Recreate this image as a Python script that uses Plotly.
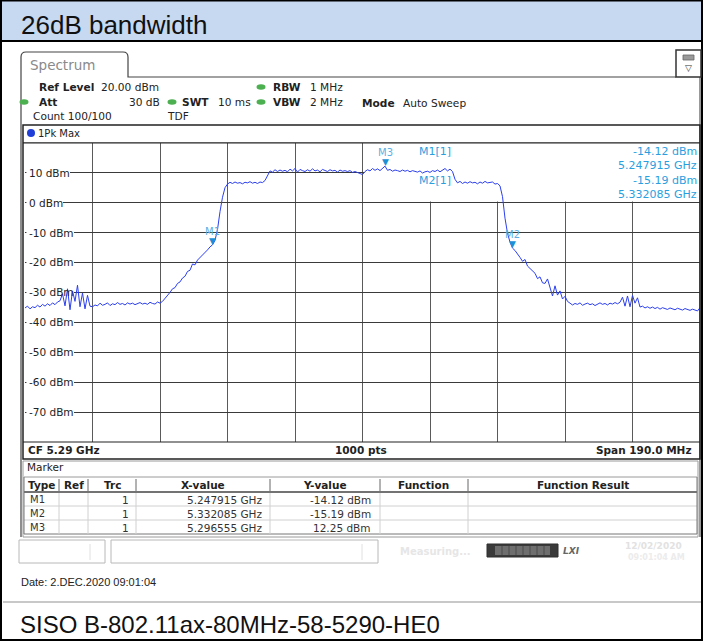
import numpy as np
import plotly.graph_objects as go

# ---------------- data ----------------
start_ghz = 5.195
stop_ghz = 5.385
center_ghz = 5.29
span_mhz = 190.0
ref_level_dbm = 20.0
bottom_level_dbm = -80.0
sweep_points = 1000

seg_floor_left = [-35.2, -34.6, -35.5, -34.8, -35.1, -34.3, -34.9, -34.0, -34.6, -33.8,
                  -34.4, -33.5, -34.1, -33.2, -32.8]
seg_spikes_left = [-30.5, -34.5, -28.8, -35.8, -29.5, -33.0, -27.6, -34.8, -30.2, -35.5,
                   -31.0, -34.6]
seg_floor_mid = [-34.8, -34.2, -34.5, -33.6, -34.3, -34.0, -33.5, -34.4, -33.8, -34.1,
                 -33.4, -34.0, -33.7, -34.2, -33.5, -33.9, -33.6, -34.1, -33.8, -33.4,
                 -33.9, -33.6, -34.0, -33.3, -33.7, -33.9, -33.2, -33.6, -33.0]
seg_rise = [-32.0, -31.2, -30.0, -28.8, -28.4, -27.0, -26.5, -25.2, -24.6, -23.0,
            -22.6, -20.5, -20.8, -19.2, -18.4, -17.6, -16.5, -15.8, -14.8, -14.1,
            -12.6, -9.0, -3.0, 1.8, 5.0]
seg_shoulder_left = [6.2, 6.8, 6.4, 6.9, 6.5, 6.7, 6.3, 6.8, 6.6, 7.0, 6.5, 6.8, 6.4,
                     6.9, 6.7, 7.4]
seg_step_up = [9.0, 10.6, 10.2, 11.0, 10.4, 10.9, 10.5]
seg_top = [10.8, 10.3, 11.2, 10.6, 11.4, 10.2, 11.1, 10.7, 10.4, 11.0,
           10.5, 11.3, 10.6, 10.9, 10.3, 11.1, 10.7, 10.4, 11.0, 10.6,
           10.8, 10.2, 10.9, 10.5, 10.7, 10.4, 10.7, 10.1, 10.4, 10.0,
           9.7, 9.4, 10.4, 11.0, 10.6, 11.4, 10.8, 11.3, 10.7, 11.5,
           12.2, 10.8, 11.1, 10.5, 10.9, 10.7, 10.4, 10.9, 10.5, 10.8,
           10.3, 10.7, 10.4, 10.2, 10.6, 9.9, 10.3, 10.5, 10.1, 10.7,
           10.4, 10.9, 10.3, 10.8, 11.4, 10.6, 11.2, 10.4]
seg_shoulder_right = [7.8, 6.6, 7.1, 6.4, 6.9, 6.5, 7.0, 6.6, 6.8, 6.3, 6.9, 6.5, 7.1,
                      6.6, 6.8, 6.9, 6.2, 6.4]
seg_fall = [5.6, 2.0, -5.2, -10.2, -13.2, -15.2, -16.0, -17.0, -18.3, -19.6,
            -19.0, -21.2, -22.0, -22.8, -23.6, -25.4, -24.8, -26.8, -27.0, -25.5,
            -28.6, -31.2, -27.8, -30.9, -29.5, -32.2, -31.3]
seg_floor_right = [-33.0, -33.6, -34.2, -33.7, -34.0, -33.5, -34.3, -33.9, -33.6, -34.1,
                   -33.8, -34.4, -33.9, -33.5, -34.0, -33.7, -34.2, -33.6, -33.9, -33.4,
                   -33.8, -33.3]
seg_spikes_right = [-31.6, -34.6, -31.2, -34.8, -31.0, -33.6, -31.8, -34.9]
seg_floor_end = [-34.6, -35.2, -34.8, -35.3, -34.9, -35.4, -35.0, -35.6, -35.1, -35.3,
                 -35.7, -35.2, -35.5, -35.8, -35.3, -35.6, -35.9, -35.4, -35.7, -36.0,
                 -35.6, -35.9, -36.2, -35.1]

trace_dbm = (seg_floor_left + seg_spikes_left + seg_floor_mid + seg_rise + seg_shoulder_left
             + seg_step_up + seg_top + seg_shoulder_right + seg_fall + seg_floor_right
             + seg_spikes_right + seg_floor_end)

marker_names = ["M1", "M2", "M3"]
marker_freq_ghz = [5.247915, 5.332085, 5.296555]
marker_level_dbm = [-14.12, -15.19, 12.25]
marker_trace = [1, 1, 1]

y_tick_dbm = [10, 0, -10, -20, -30, -40, -50, -60, -70]
table_columns = ["Type", "Ref", "Trc", "X-value", "Y-value", "Function", "Function Result"]

title_text = "26dB bandwidth"
caption_text = "SISO B-802.11ax-80MHz-58-5290-HE0"
date_text = "Date: 2.DEC.2020 09:01:04"

# ---------------- layout helpers ----------------
W, H = 703, 641
UI = "DejaVu Sans"
ARIAL = "Liberation Sans"
MK = "#2a9fe0"


def X(px):
    return px / W


def Y(py):
    return 1 - py / H


PLOT_L, PLOT_R, PLOT_T, PLOT_B = 25, 700, 142.8, 442


def px_to_ghz(px):
    return start_ghz + (px - PLOT_L) / (PLOT_R - PLOT_L) * (stop_ghz - start_ghz)


shapes = []
anns = []


def rect(x0, y0, x1, y1, line="#000", lw=1, fill=None, layer="above"):
    shapes.append(dict(type="rect", xref="paper", yref="paper",
                       x0=X(x0), x1=X(x1), y0=Y(y1), y1=Y(y0),
                       line=dict(color=line, width=lw) if lw > 0 else dict(width=0),
                       fillcolor=fill if fill else "rgba(0,0,0,0)", layer=layer))


def seg(x0, y0, x1, y1, color="#000", lw=1):
    shapes.append(dict(type="line", xref="paper", yref="paper",
                       x0=X(x0), x1=X(x1), y0=Y(y0), y1=Y(y1),
                       line=dict(color=color, width=lw), layer="above"))


def ell(cx, cy, rx, ry, fill):
    shapes.append(dict(type="circle", xref="paper", yref="paper",
                       x0=X(cx - rx), x1=X(cx + rx), y0=Y(cy + ry), y1=Y(cy - ry),
                       line=dict(width=0), fillcolor=fill, layer="above"))


def path(points, color="#000", lw=1):
    d = ""
    for i, p in enumerate(points):
        if p[0] == "Q":
            d += f" Q {X(p[1])},{Y(p[2])} {X(p[3])},{Y(p[4])}"
        else:
            d += (" M " if i == 0 else " L ") + f"{X(p[0])},{Y(p[1])}"
    shapes.append(dict(type="path", xref="paper", yref="paper", path=d,
                       line=dict(color=color, width=lw), layer="above"))


def txt(x, y, s, size=10.5, color="#222", bold=False, xanchor="left", font=UI, italic=False):
    t = f"<b>{s}</b>" if bold else s
    if italic:
        t = f"<i>{t}</i>"
    anns.append(dict(x=X(x), y=Y(y), xref="paper", yref="paper", text=t, showarrow=False,
                     xanchor=xanchor, yanchor="middle",
                     font=dict(family=font, size=size, color=color)))


# ---------------- figure ----------------
freq_ghz = np.linspace(start_ghz, stop_ghz, len(trace_dbm))

fig = go.Figure()
fig.add_trace(go.Scatter(x=freq_ghz, y=trace_dbm, mode="lines",
                         line=dict(color="#2b3ff0", width=1), hoverinfo="skip",
                         showlegend=False))

# title band and outer frame
rect(1, 1, 702, 40, lw=0, fill="#c6d9f1", layer="below")
seg(1, 41, 702, 41, "#000", 2)
seg(3, 602, 701, 602, "#c8c8c8", 2)
rect(1, 0.5, 702, 640, line="#000", lw=2)
txt(19, 25, title_text, size=26, color="#111", font=ARIAL)
txt(18, 624, caption_text, size=24, color="#111", font=ARIAL)
txt(19, 582, date_text, size=11, color="#222", font=ARIAL)

# spectrum tab
path([(21, 537), (21, 57), ("Q", 21, 52, 26, 52), (123, 52), ("Q", 128, 52, 128, 57),
      (128, 77), (676, 77)], color="#444", lw=1.2)
txt(28, 65, "Spectrum", size=13.5, color="#8a8a8a")
seg(700, 77, 700, 537, "#555", 1.2)
# icon
rect(676, 50, 701, 77, line="#333", lw=1.5, fill="#ffffff")
rect(683, 55, 694, 60, line="#666", lw=0.8, fill="#9a9a9a")
txt(688.5, 68, "▽", size=9, color="#333", xanchor="center")

# settings header
HS = 10.6
txt(37, 87, "Ref Level", bold=True, size=HS)
txt(99, 87, f"{ref_level_dbm:.2f} dBm", size=HS)
ell(261, 87, 4.5, 2.8, "#4caf50")
txt(271, 87, "RBW", bold=True, size=HS)
txt(308, 87, "1 MHz", size=HS)
ell(24, 102, 4.5, 2.8, "#4caf50")
txt(37, 102, "Att", bold=True, size=HS)
txt(127, 102, "30 dB", size=HS)
ell(172, 102, 4.5, 2.8, "#4caf50")
txt(180, 102, "SWT", bold=True, size=HS)
txt(216, 102, "10 ms", size=HS)
ell(261, 102, 4.5, 2.8, "#4caf50")
txt(271, 102, "VBW", bold=True, size=HS)
txt(308, 102, "2 MHz", size=HS)
txt(360, 103, "Mode", bold=True, size=HS)
txt(401, 103, "Auto Sweep", size=HS)
txt(31, 116, "Count 100/100", size=HS)
txt(165, 116, "TDF", size=HS)

# plot window frame
rect(23, 125, 700, 459, line="#222", lw=1.5)
seg(23, PLOT_T, 700, PLOT_T, "#222", 1.2)
seg(23, PLOT_B, 700, PLOT_B, "#222", 1.2)
ell(31, 133, 4, 4, "#1f3fd8")
txt(36, 133, "1Pk Max", size=10)
txt(26, 450, f"CF {center_ghz:.2f} GHz", bold=True, size=10.5)
txt(361, 450, f"{sweep_points} pts", bold=True, size=10.5, xanchor="center")
txt(694, 450, f"Span {span_mhz:.1f} MHz", bold=True, size=10.5, xanchor="right")

# y tick labels inside the plot
label_end_px = {10: 70, 0: 63, -10: 74, -20: 74, -30: 74, -40: 74, -50: 74, -60: 74, -70: 74}
for v in y_tick_dbm:
    shapes.append(dict(type="rect", xref="x", yref="y", x0=start_ghz + 0.0004,
                       x1=px_to_ghz(label_end_px[v]), y0=v - 2.5, y1=v + 2.5,
                       line=dict(width=0), fillcolor="#ffffff", layer="between"))
    anns.append(dict(x=X(27), y=v, xref="paper", yref="y", text=f"{v} dBm", showarrow=False,
                     xanchor="left", yanchor="middle",
                     font=dict(family=UI, size=10.5, color="#222")))

# marker readout box (white, over the grid, under the trace)
shapes.append(dict(type="rect", xref="x", yref="y", x0=center_ghz + 0.0006, x1=stop_ghz,
                   y0=0.4, y1=ref_level_dbm, line=dict(width=0), fillcolor="#ffffff",
                   layer="between"))
for i, (yy, yf) in enumerate([(151, 165), (180.5, 194.5)]):
    txt(417, yy, f"{marker_names[i]}[{marker_trace[i]}]", size=11, color=MK)
    txt(699, yy, f"{marker_level_dbm[i]:.2f} dBm", size=11, color=MK, xanchor="right")
    txt(699, yf, f"{marker_freq_ghz[i]:.6f} GHz", size=11, color=MK, xanchor="right")

# marker symbols on the trace
for name, f, lv in zip(marker_names, marker_freq_ghz, marker_level_dbm):
    anns.append(dict(x=f, y=lv, xref="x", yref="y", text="▼", showarrow=False,
                     xanchor="center", yanchor="bottom", yshift=-3,
                     font=dict(family=UI, size=9, color="#1c8fd6")))
    anns.append(dict(x=f, y=lv, xref="x", yref="y", text=name, showarrow=False,
                     xanchor="center", yanchor="bottom", yshift=6,
                     font=dict(family=UI, size=10, color="#5ab0e6")))

# marker table
rect(23, 461, 698, 537, line="#9a9a9a", lw=1)
txt(25, 467, "Marker", size=10.5)
col_edges = [24, 59, 88, 136, 270, 380, 468, 697]
seg(24, 477, 697, 477, "#9a9a9a", 1)
seg(24, 492, 697, 492, "#444", 1.5)
seg(24, 506, 697, 506, "#d0d0d0", 1)
seg(24, 520, 697, 520, "#d0d0d0", 1)
seg(24, 534, 697, 534, "#777", 1)
seg(24, 477, 24, 534, "#777", 1)
seg(697, 477, 697, 534, "#777", 1)
for xe in col_edges[1:-1]:
    seg(xe, 479, xe, 491, "#666", 1)
    seg(xe, 493, xe, 534, "#d0d0d0", 1)
for c, name in enumerate(table_columns):
    txt((col_edges[c] + col_edges[c + 1]) / 2, 484.5, name, bold=True, size=10.5,
        xanchor="center")
for r, (name, f, lv, tr) in enumerate(zip(marker_names, marker_freq_ghz, marker_level_dbm,
                                          marker_trace)):
    yy = 499.5 + r * 14
    txt(47, yy, name, size=10, color="#333", xanchor="right")
    txt(131, yy, str(tr), size=10.5, color="#333", xanchor="right")
    txt(264, yy, f"{f:.6f} GHz", size=10.5, color="#333", xanchor="right")
    txt(373, yy, f"{lv:.2f} dBm", size=10.5, color="#333", xanchor="right")

# status bar
rect(19, 540, 105, 563, line="#b8b8b8", lw=1)
seg(90, 544, 90, 560, "#e0e0e0", 1)
rect(111, 540, 378, 563, line="#b8b8b8", lw=1)
seg(362, 544, 362, 560, "#e0e0e0", 1)
txt(398, 551, "Measuring...", bold=True, size=10, color="#e6e6e6")
rect(487, 544, 558, 557, line="#2e2e2e", lw=1, fill="#3a3a3a")
rect(495, 546, 550, 555, lw=0, fill="#6e6e6e")
for xs in [502, 509, 516, 523, 530, 537, 544]:
    seg(xs, 546, xs, 555, "#4a4a4a", 1)
txt(571, 551, "LXI", bold=True, italic=True, size=9, color="#666", xanchor="center")
txt(623, 546, "12/02/2020", bold=True, size=9, color="#e2e2e2")
txt(626, 557, "09:01:04 AM", bold=True, size=8, color="#ececec")

fig.update_layout(
    width=W, height=H, margin=dict(l=0, r=0, t=0, b=0),
    paper_bgcolor="#ffffff", plot_bgcolor="#ffffff",
    shapes=shapes, annotations=anns, showlegend=False,
    xaxis=dict(domain=[X(PLOT_L), X(PLOT_R)], range=[start_ghz, stop_ghz],
               tick0=start_ghz, dtick=(stop_ghz - start_ghz) / 10, showticklabels=False,
               ticks="", showgrid=True, gridcolor="#5a5a5a", gridwidth=1.2,
               zeroline=False, showline=False, fixedrange=True),
    yaxis=dict(domain=[Y(PLOT_B), Y(PLOT_T)], range=[bottom_level_dbm, ref_level_dbm],
               tick0=bottom_level_dbm, dtick=10, showticklabels=False, ticks="",
               showgrid=True, gridcolor="#3a3a3a", gridwidth=1, zeroline=False,
               showline=False, fixedrange=True),
)

fig.write_html("out.html", config={"displayModeBar": False},
               post_script="document.body.style.margin='0';document.body.style.padding='0';")
